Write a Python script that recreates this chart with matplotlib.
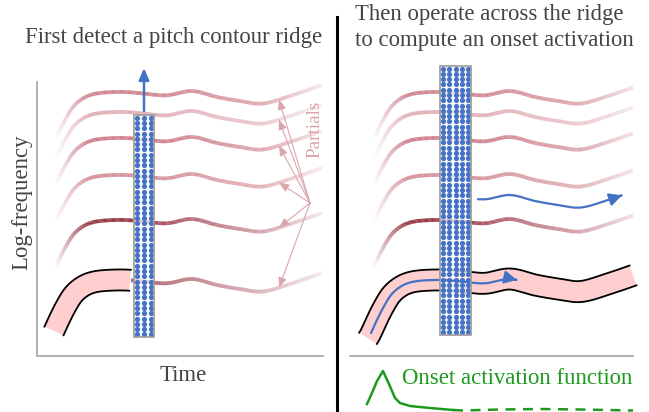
"""pitch contour ridge -> onset activation 도식 재현."""
import numpy as np
import matplotlib
matplotlib.use("Agg")
import matplotlib.pyplot as plt
from matplotlib.collections import LineCollection
from matplotlib.patches import Polygon, Rectangle, FancyArrowPatch
from matplotlib.path import Path

# 기본 윤곽선 모양 (그림에서 읽은 x, 평탄부 대비 y 편차, 픽셀)
shape_x = [46, 52, 58, 65, 73, 82, 92, 105, 125, 143, 167, 192, 217, 240, 263, 290, 322]
shape_dy = [64, 55, 42, 28, 15, 7, 2.5, 0.5, 0, 1.5, 3.3, -1, 5, 9, 11.5, 4, -7]

# 배음(partial) 높이와 진하기
partial_level = [92, 112, 138, 175, 220]
partial_strength = [0.9, 0.55, 0.95, 0.8, 1.0]
partial_dark = [False, False, False, False, True]
f0_level = 280

# 알파 프로파일 (윤곽 x 기준)
fade_x = [55, 90, 150, 260, 322]
fade_a = [0.0, 1.0, 1.0, 0.65, 0.15]

# onset activation 곡선
onset_x = [367, 372, 377, 383, 389, 395, 400, 410, 430, 453, 463, 500, 540, 580, 633]
onset_y = [404, 393, 381, 371, 384, 398, 403, 406, 408, 410, 410.5, 409.5, 409, 409.5, 410.5]
onset_solid = 10  # 앞 10점은 실선, 나머지는 점선

TXT = "#444444"
BLUE = "#4472c4"
PINK_TXT = "#d9a3a8"
SERIF = ["Liberation Serif", "DejaVu Serif"]


def smooth(xk, yk, n=24):
    P = np.column_stack([xk, yk]).astype(float)
    P = np.vstack([P[0], P, P[-1]])
    out = []
    t = np.linspace(0, 1, n, endpoint=False)[:, None]
    for i in range(1, len(P) - 2):
        p0, p1, p2, p3 = P[i - 1], P[i], P[i + 1], P[i + 2]
        out.append(0.5 * (2 * p1 + (-p0 + p2) * t + (2 * p0 - 5 * p1 + 4 * p2 - p3) * t ** 2
                          + (-p0 + 3 * p1 - 3 * p2 + p3) * t ** 3))
    out.append(P[-2][None])
    return np.vstack(out)


dense = smooth(shape_x, shape_dy)
SX, SD = dense[:, 0], dense[:, 1]


def contour(x0, x1, level, dx=0, n=300):
    xs = np.linspace(x0, x1, n)
    return xs + dx, level + np.interp(xs, SX, SD), xs


def draw_partial(ax, x0, x1, level, dx, strength, dark):
    x, y, xs = contour(x0, x1, level, dx)
    a = np.interp(xs, fade_x, fade_a) * strength
    if dark:
        c0 = np.array([0.55, 0.12, 0.18])
        c1 = np.array([0.74, 0.44, 0.50])
        mix = np.clip((xs - 120) / 150, 0, 1)[:, None]
        col = c0 * (1 - mix) + c1 * mix
    else:
        col = np.tile([0.78, 0.42, 0.47], (len(xs), 1))
    pts = np.column_stack([x, y]).reshape(-1, 1, 2)
    segs = np.concatenate([pts[:-1], pts[1:]], axis=1)
    rgba = np.column_stack([col[:-1], a[:-1]])
    ax.add_collection(LineCollection(segs, colors=rgba, linewidths=2.7,
                                     capstyle="butt", zorder=2))


def draw_ridge(ax, x0, x1, dx, hw=10.5):
    x, y, _ = contour(x0, x1, f0_level, dx)
    tx, ty = np.gradient(x), np.gradient(y)
    nrm = np.hypot(tx, ty)
    nx, ny = -ty / nrm, tx / nrm
    up = np.column_stack([x + hw * nx, y + hw * ny])
    lo = np.column_stack([x - hw * nx, y - hw * ny])
    ax.add_patch(Polygon(np.vstack([up, lo[::-1]]), closed=True,
                         facecolor="#ffcfcf", edgecolor="none", zorder=2.5))
    ax.plot(up[:, 0], up[:, 1], color="k", lw=1.3, zorder=2.6)
    ax.plot(lo[:, 0], lo[:, 1], color="k", lw=1.3, zorder=2.6)


def draw_bar(ax, x, y, w, h, cols, rows):
    ax.add_patch(Rectangle((x, y), w, h, facecolor=(0.97, 0.97, 0.99), alpha=0.75,
                           edgecolor="none", zorder=4))
    ax.add_patch(Rectangle((x, y), w, h, facecolor="none", edgecolor="#9a9a9a",
                           lw=1.2, zorder=5.5))
    cx = x + (np.arange(cols) + 0.5) * w / cols
    cy = y + (np.arange(rows) + 0.5) * h / rows
    gx, gy = np.meshgrid(cx, cy)
    ax.scatter(gx.ravel(), gy.ravel(), s=14, color=BLUE, linewidths=0, zorder=5)


fig = plt.figure(figsize=(6.49, 4.12), dpi=100)
ax = fig.add_axes([0, 0, 1, 1])
ax.set_xlim(0, 649)
ax.set_ylim(412, 0)
ax.axis("off")

# ---- 왼쪽 패널 ----
for lv, st, dk in zip(partial_level, partial_strength, partial_dark):
    draw_partial(ax, 55, 322, lv, 0, st, dk)
draw_partial(ax, 131, 322, f0_level, 0, 0.85, True)
draw_ridge(ax, 54, 130, 0)
ax.plot([37, 37, 323], [82, 356, 356], color="#aaaaaa", lw=1.3, zorder=1)
draw_bar(ax, 134, 115, 20, 222, 3, 42)
ax.annotate("", xy=(144, 68), xytext=(144, 111),
            arrowprops=dict(arrowstyle="-|>,head_length=0.7,head_width=0.3",
                            color=BLUE, lw=1.8, shrinkA=0, shrinkB=0), zorder=6)

# Partials 라벨 화살표
for lv in partial_level + [f0_level]:
    ty = lv + np.interp(279, SX, SD)
    ax.annotate("", xy=(279, ty), xytext=(310, 203),
                arrowprops=dict(arrowstyle="-|>,head_length=0.6,head_width=0.25",
                                color="#dba6ab", lw=0.8, shrinkA=0, shrinkB=0), zorder=3)
ax.text(315, 129, "Partials", rotation=90, ha="center", va="center",
        fontsize=13.9, family=SERIF, color=PINK_TXT)

ax.text(173.5, 43, "First detect a pitch contour ridge", ha="center", va="baseline",
        fontsize=16.4, family=SERIF, color=TXT)
ax.text(22, 202, "Log-frequency", rotation=90, ha="center", va="center",
        fontsize=16.4, family=SERIF, color=TXT)
ax.text(183, 381, "Time", ha="center", va="baseline", fontsize=16.4, family=SERIF, color=TXT)

# ---- 오른쪽 패널 ----
DX = 318
for lv, st, dk in zip(partial_level, partial_strength, partial_dark):
    draw_partial(ax, 55, 315, lv, DX, st, dk)
draw_ridge(ax, 50, 315, DX)
ax.plot([350, 633], [356, 356], color="#aaaaaa", lw=1.3, zorder=1)
draw_bar(ax, 440, 66, 31, 269, 5, 51)

x, y, _ = contour(53, 199, f0_level, DX)
ax.add_patch(FancyArrowPatch(path=Path(np.column_stack([x, y])),
                             arrowstyle="-|>,head_length=0.75,head_width=0.38",
                             mutation_scale=10, color=BLUE, lw=1.6, zorder=4.5))
x, y, _ = contour(160, 304, 196, DX)
ax.add_patch(FancyArrowPatch(path=Path(np.column_stack([x, y])),
                             arrowstyle="-|>,head_length=0.75,head_width=0.38",
                             mutation_scale=10, color=BLUE, lw=1.6, zorder=6))

ax.text(355, 20, "Then operate across the ridge", ha="left", va="baseline",
        fontsize=16.4, family=SERIF, color=TXT)
ax.text(355, 46, "to compute an onset activation", ha="left", va="baseline",
        fontsize=16.4, family=SERIF, color=TXT)

# onset activation function
GREEN = "#1f9a1f"
ax.plot(onset_x[:onset_solid], onset_y[:onset_solid], color=GREEN, lw=1.8, zorder=3)
ax.plot(onset_x[onset_solid - 1:], onset_y[onset_solid - 1:], color=GREEN, lw=1.8,
        ls=(0, (4, 3)), zorder=3)
ax.text(402, 384, "Onset activation function", ha="left", va="baseline",
        fontsize=16.4, family=SERIF, color=GREEN)

# 구분선
ax.plot([336.5, 336.5], [17, 410], color="k", lw=2.2, zorder=7)

fig.savefig("out.png", dpi=100)
print("saved out.png")
